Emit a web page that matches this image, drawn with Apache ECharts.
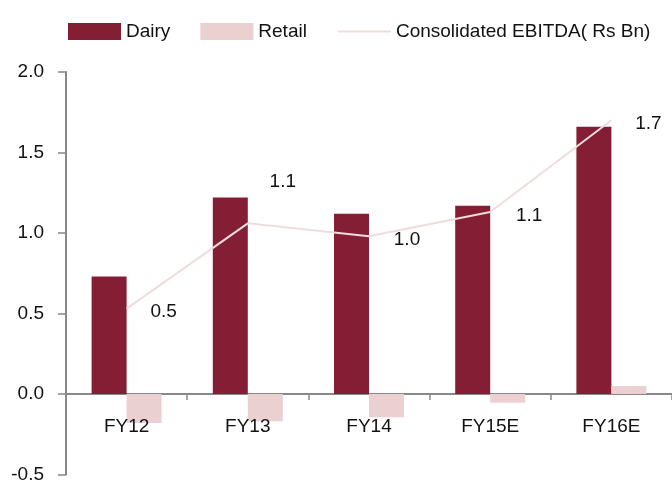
<!DOCTYPE html>
<html>
<head>
<meta charset="utf-8">
<script src="https://cdn.jsdelivr.net/npm/echarts@6/dist/echarts.min.js"></script>
<style>
  html, body { margin: 0; padding: 0; background: #fff; }
  #chart { width: 672px; height: 487px; }
</style>
</head>
<body>
<div id="chart"></div>
<script>
const years = ['FY12', 'FY13', 'FY14', 'FY15E', 'FY16E']
const dairy = [0.73, 1.22, 1.12, 1.17, 1.66]
const retail = [-0.18, -0.17, -0.145, -0.055, 0.05]
const ebitda = [0.53, 1.06, 0.98, 1.13, 1.70]
// where each EBITDA label sits relative to its point
const labelOffsets = [[37, 3], [35, -42], [38, 4], [39, 4], [37, 3]]

const font = '"Liberation Sans", Arial, sans-serif'
const colors = ['#841E35', '#EBD0D1', '#F0DCDC']

const chart = echarts.init(document.getElementById('chart'))
chart.setOption({
  color: colors,
  animation: false,
  textStyle: { fontFamily: font },
  legend: {
    left: 63, top: 17,
    itemWidth: 53, itemHeight: 17, itemGap: 30,
    textStyle: { fontSize: 19, color: '#111', fontFamily: font },
    data: [
      { name: 'Dairy', icon: 'rect' },
      { name: 'Retail', icon: 'rect' },
      { name: 'Consolidated EBITDA( Rs Bn)', itemStyle: { opacity: 0 } }
    ]
  },
  grid: { left: 66, right: 0, top: 72, bottom: 12.5, containLabel: false, outerBoundsMode: 'none' },
  xAxis: [
    {
      type: 'category',
      data: years,
      axisLine: { onZero: true, lineStyle: { color: '#888', width: 2 } },
      axisTick: { show: true, length: 6, interval: 0, lineStyle: { color: '#888', width: 1.5 } },
      axisLabel: { show: false }
    },
    {
      // label-only axis lifted up to the zero line
      type: 'category',
      data: years,
      position: 'bottom',
      offset: -80.5,
      z: 10,
      axisLine: { show: false },
      axisTick: { show: false },
      axisLabel: { margin: 23, fontSize: 19, color: '#111', fontFamily: font }
    }
  ],
  yAxis: {
    type: 'value',
    min: -0.5, max: 2.0, interval: 0.5,
    axisLine: { show: true, lineStyle: { color: '#888', width: 2 } },
    axisTick: { show: true, length: 8, lineStyle: { color: '#888', width: 1.5 } },
    splitLine: { show: false },
    axisLabel: { margin: 22, fontSize: 19, color: '#111', fontFamily: font,
      formatter: v => v.toFixed(1) }
  },
  series: [
    { name: 'Dairy', type: 'bar', data: dairy, barWidth: 35, barGap: '0%' },
    { name: 'Retail', type: 'bar', data: retail, barWidth: 35, barGap: '0%' },
    {
      name: 'Consolidated EBITDA( Rs Bn)', type: 'line',
      symbol: 'circle', symbolSize: 1, showSymbol: true,
      itemStyle: { color: 'rgba(0,0,0,0)', borderWidth: 0 },
      lineStyle: { width: 2, color: colors[2] },
      labelLayout: { hideOverlap: false },
      data: ebitda.map((v, i) => ({
        value: v,
        label: {
          show: true,
          position: [labelOffsets[i][0] + 0.5, labelOffsets[i][1] + 0.5],
          align: 'center', verticalAlign: 'middle',
          fontSize: 19, color: '#111', fontFamily: font,
          formatter: p => p.value.toFixed(1)
        }
      }))
    }
  ]
})
</script>
</body>
</html>
